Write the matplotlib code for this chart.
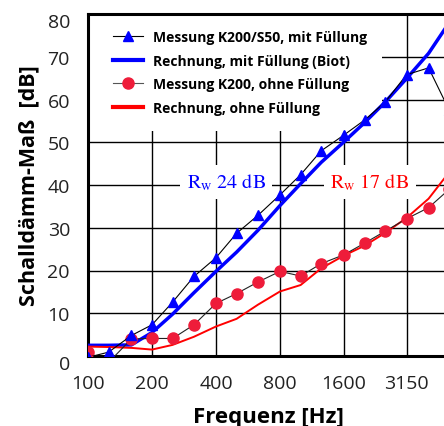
import matplotlib
matplotlib.use("Agg")
import matplotlib.pyplot as plt
from matplotlib.lines import Line2D
from matplotlib.patches import Rectangle
from matplotlib.transforms import ScaledTranslation

# third-octave band centre frequencies [Hz]
freq = [100, 125, 160, 200, 250, 315, 400, 500, 630, 800,
        1000, 1250, 1600, 2000, 2500, 3150, 4000, 5000]

# Messung K200/S50, mit Fuellung
meas_fill = [-0.3, 0.9, 4.8, 7.3, 12.6, 18.6, 23.0, 28.7, 32.9, 37.7,
             42.4, 48.0, 51.7, 55.2, 59.4, 65.8, 67.4, 57.5]
# Rechnung, mit Fuellung (Biot)
calc_fill = [2.5, 2.5, 2.6, 5.5, 9.8, 14.8, 19.8, 24.3, 29.4, 35.2,
             40.3, 45.3, 50.1, 54.6, 59.4, 64.9, 70.8, 78.0]
# Messung K200, ohne Fuellung
meas_empty = [0.9, -1.5, 4.0, 4.1, 4.1, 7.3, 12.3, 14.6, 17.3, 19.8,
              18.7, 21.6, 23.7, 26.4, 29.2, 32.1, 34.7, 39.0]
# Rechnung, ohne Fuellung
calc_empty = [2.2, 2.1, 1.9, 1.5, 2.6, 4.5, 6.9, 8.7, 12.0, 15.1,
              16.6, 20.5, 23.5, 25.8, 28.8, 32.3, 36.8, 43.0]

xticks = [100, 200, 400, 800, 1600, 3150]
yticks = [0, 10, 20, 30, 40, 50, 60, 70, 80]

labels = ["Messung K200/S50, mit Füllung",
          "Rechnung, mit Füllung (Biot)",
          "Messung K200, ohne Füllung",
          "Rechnung, ohne Füllung"]

BLUE = "#0000ff"
RED = "#ff0000"
DOT = "#ee1c3a"

plt.rcParams["font.family"] = ["Open Sans", "DejaVu Sans"]
plt.rcParams["mathtext.fontset"] = "stix"

fig = plt.figure(figsize=(4.44, 4.27), dpi=100)
ax = fig.add_axes([88 / 444, 70 / 427, 361.2 / 444, 342 / 427])

ax.set_xscale("log")
ax.set_xlim(100, 5000)
ax.set_ylim(0, 80)
ax.set_xticks(xticks)
ax.set_xticklabels([str(t) for t in xticks])
ax.xaxis.set_minor_locator(matplotlib.ticker.NullLocator())
ax.set_yticks(yticks)
ax.tick_params(length=0, labelsize=14, colors="#222222")
ax.tick_params(axis="x", pad=13)
ax.tick_params(axis="y", pad=13)

ax.set_axisbelow(True)
ax.grid(True, color="black", lw=1.0)
for s in ax.spines.values():
    s.set_linewidth(2.2)

# legend area hides the grid
ax.add_patch(Rectangle((0, 0.658), 0.814, 0.342, transform=ax.transAxes,
                       fc="white", ec="none", zorder=1))

# calculations
ax.plot(freq, calc_fill, color=BLUE, lw=2.5, zorder=3)
ax.plot(freq, calc_empty, color=RED, lw=1.4, zorder=3)

# measurements
ax.plot(freq, meas_empty, color="#222222", lw=0.8, marker="o", ms=8,
        mfc=DOT, mec=DOT, zorder=4)
ax.plot(freq, meas_fill, color="black", lw=0.8, marker="^", ms=7.5,
        mfc=BLUE, mec=BLUE, zorder=5)

box = dict(fc="white", ec="none", pad=5)
ax.text(446, 40.7, r"R$_{\mathrm{w}}$ 24 dB", color=BLUE, fontsize=14.5,
        family="STIXGeneral", ha="center", va="center", bbox=box, zorder=2)
ax.text(2120, 40.7, r"R$_{\mathrm{w}}$ 17 dB", color=RED, fontsize=14.5,
        family="STIXGeneral", ha="center", va="center", bbox=box, zorder=2)

handles = [
    Line2D([], [], color="black", lw=0.8, marker="^", ms=7.5, mfc=BLUE, mec=BLUE),
    Line2D([], [], color=BLUE, lw=3),
    Line2D([], [], color="#555555", lw=0.8, marker="o", ms=8, mfc=DOT, mec=DOT),
    Line2D([], [], color=RED, lw=3),
]
ax.legend(handles, labels, loc="upper left", bbox_to_anchor=(0.069, 0.953),
          frameon=False, prop=dict(weight="bold", size=10),
          handlelength=2.16, handletextpad=0.72, labelspacing=0.69,
          borderaxespad=0, borderpad=0)

ax.set_xlabel("Frequenz [Hz]", fontsize=16, fontweight="bold", labelpad=10)
ax.set_ylabel("Schalldämm-Maß  [dB]", fontsize=15.5, fontweight="bold",
              labelpad=6)

# end labels sit a bit lower in the original
fig.canvas.draw()
for lab in ax.get_yticklabels():
    if lab.get_text() in ("0", "80"):
        lab.set_transform(lab.get_transform() +
                          ScaledTranslation(0, -6 / 100, fig.dpi_scale_trans))

fig.savefig("out.png", dpi=100)
